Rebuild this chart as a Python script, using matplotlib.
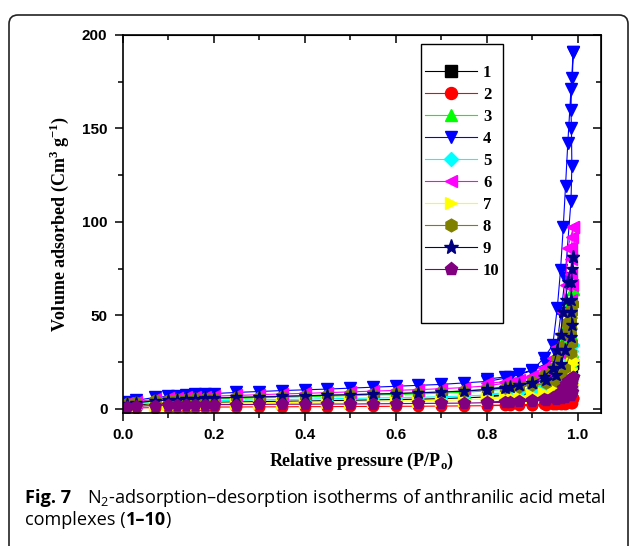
import matplotlib
matplotlib.use("Agg")
import matplotlib.pyplot as plt
from matplotlib.patches import FancyBboxPatch, Rectangle
from matplotlib.ticker import MultipleLocator

plt.rcParams["mathtext.fontset"] = "custom"
plt.rcParams["mathtext.rm"] = "Open Sans"
plt.rcParams["mathtext.bf"] = "Liberation Serif:bold"

# relative pressure of the adsorption / desorption points
x_ads = [0.01, 0.03, 0.07, 0.10, 0.12, 0.14, 0.16, 0.18, 0.20, 0.25, 0.30, 0.35,
         0.40, 0.45, 0.50, 0.55, 0.60, 0.65, 0.70, 0.75, 0.80, 0.85, 0.90, 0.925,
         0.945, 0.955, 0.962, 0.968, 0.973, 0.978, 0.99]
x_des = [0.99, 0.988, 0.986, 0.985, 0.986, 0.987, 0.985, 0.972, 0.963, 0.952,
         0.93, 0.90, 0.87, 0.84, 0.80]

labels = ["1", "2", "3", "4", "5", "6", "7", "8", "9", "10"]

ads_1 = [1.5, 2.0, 2.6, 2.9, 3.0, 3.1, 3.2, 3.3, 3.4, 3.6, 3.8, 4.0, 4.1, 4.3, 4.5, 4.7,
         4.9, 5.1, 5.4, 5.8, 6.3, 7.2, 8.6, 10.0, 11.5, 13.5, 15.5, 17.0, 19.0, 21.0, 24.0]
des_1 = [24.0, 22.0, 19.5, 17.0, 15.0, 12.5, 11.0, 10.0, 9.2, 8.6, 8.2, 7.8, 7.6, 7.3, 7.1]

ads_2 = [0.3, 0.4, 0.6, 0.7, 0.7, 0.8, 0.8, 0.8, 0.9, 0.9, 1.0, 1.0, 1.1, 1.1, 1.2, 1.2,
         1.3, 1.3, 1.4, 1.5, 1.6, 1.8, 2.0, 2.3, 2.6, 3.0, 3.4, 3.8, 4.2, 4.8, 5.5]
des_2 = [5.5, 5.0, 4.5, 4.0, 3.6, 3.1, 2.8, 2.6, 2.4, 2.3, 2.2, 2.1, 2.0, 1.9, 1.9]

ads_3 = [2.3, 3.0, 3.9, 4.3, 4.5, 4.7, 4.9, 5.0, 5.2, 5.5, 5.8, 6.1, 6.4, 6.7, 7.0, 7.3,
         7.6, 7.9, 8.3, 8.8, 9.5, 10.8, 13.0, 15.5, 18.5, 23.0, 29.0, 36.0, 45.0, 55.0, 64.0]
des_3 = [64.0, 58.0, 52.0, 46.0, 40.0, 31.0, 25.0, 20.0, 17.0, 15.0, 13.8, 12.8, 12.2, 11.6, 11.2]

ads_4 = [3.5, 4.5, 6.0, 6.6, 7.0, 7.3, 7.6, 7.9, 8.1, 8.7, 9.2, 9.7, 10.1, 10.5, 11.0, 11.5,
         12.0, 12.5, 13.0, 13.8, 14.6, 16.7, 20.4, 27.0, 34.0, 54.0, 74.0, 97.0, 119.0, 142.0, 191.0]
des_4 = [191.0, 177.0, 171.0, 160.0, 150.0, 130.0, 111.0, 70.0, 51.0, 30.0, 24.0, 20.8, 18.5, 17.0, 15.8]

ads_5 = [2.0, 2.6, 3.4, 3.7, 3.9, 4.0, 4.1, 4.2, 4.3, 4.5, 4.7, 4.9, 5.1, 5.3, 5.5, 5.7,
         5.9, 6.1, 6.4, 6.8, 7.3, 8.2, 9.8, 11.5, 13.5, 16.0, 19.0, 22.0, 26.0, 30.0, 34.0]
des_5 = [34.0, 31.0, 28.0, 25.0, 22.0, 18.0, 15.0, 13.0, 11.5, 10.5, 9.8, 9.2, 8.8, 8.4, 8.1]

ads_6 = [3.0, 3.8, 5.0, 5.5, 5.8, 6.1, 6.3, 6.5, 6.7, 7.1, 7.5, 7.9, 8.2, 8.6, 9.0, 9.4,
         9.8, 10.2, 10.7, 11.3, 12.2, 14.0, 17.5, 22.0, 27.0, 33.0, 40.0, 52.0, 66.0, 86.0, 97.0]
des_6 = [97.0, 92.0, 86.0, 80.0, 72.0, 66.0, 58.0, 40.0, 30.0, 24.0, 20.0, 17.0, 15.5, 14.5, 13.5]

ads_7 = [1.0, 1.5, 2.1, 2.4, 2.5, 2.6, 2.7, 2.8, 2.9, 3.0, 3.2, 3.3, 3.5, 3.6, 3.8, 3.9,
         4.1, 4.3, 4.5, 4.8, 5.2, 6.0, 7.2, 8.5, 10.0, 12.0, 14.5, 17.0, 20.0, 23.0, 26.0]
des_7 = [26.0, 24.0, 21.0, 18.5, 16.0, 13.0, 11.0, 9.5, 8.5, 7.8, 7.3, 6.8, 6.5, 6.2, 6.0]

ads_8 = [2.8, 3.5, 4.5, 4.9, 5.1, 5.3, 5.5, 5.6, 5.8, 6.1, 6.4, 6.7, 7.0, 7.3, 7.6, 7.9,
         8.2, 8.6, 9.0, 9.6, 10.4, 12.0, 15.0, 18.0, 22.0, 27.0, 33.0, 40.0, 46.0, 52.0, 56.0]
des_8 = [56.0, 52.0, 48.0, 45.0, 40.0, 35.0, 30.0, 22.0, 18.0, 15.0, 13.5, 12.5, 11.8, 11.2, 10.8]

ads_9 = [2.5, 3.2, 4.2, 4.6, 4.9, 5.1, 5.3, 5.5, 5.7, 6.0, 6.3, 6.6, 6.9, 7.2, 7.5, 7.8,
         8.1, 8.5, 8.9, 9.4, 10.2, 11.5, 14.0, 17.0, 21.7, 31.5, 39.5, 52.0, 58.0, 68.0, 81.0]
des_9 = [81.0, 75.0, 68.0, 58.0, 52.0, 45.0, 38.6, 31.5, 24.0, 18.0, 15.5, 14.0, 12.5, 11.2, 10.5]

ads_10 = [1.0, 1.3, 1.7, 1.9, 2.0, 2.0, 2.1, 2.1, 2.2, 2.2, 2.3, 2.4, 2.4, 2.5, 2.5, 2.6,
          2.7, 2.8, 2.9, 3.0, 3.2, 3.6, 4.2, 5.0, 6.0, 7.5, 9.0, 11.0, 13.0, 15.0, 17.0]
des_10 = [17.0, 15.5, 14.0, 12.5, 11.0, 9.0, 7.5, 6.5, 5.8, 5.2, 4.8, 4.4, 4.1, 3.8, 3.6]

ads = [ads_1, ads_2, ads_3, ads_4, ads_5, ads_6, ads_7, ads_8, ads_9, ads_10]
des = [des_1, des_2, des_3, des_4, des_5, des_6, des_7, des_8, des_9, des_10]

colors = ["black", "red", "#00ff00", "blue", "cyan", "magenta", "yellow",
          "#808000", "#000080", "#800080"]
markers = ["s", "o", "^", "v", "D", "<", ">", "h", "*", "p"]
msizes = [7, 7.5, 8, 8, 6.5, 8, 8, 8, 9.5, 8.5]

fig = plt.figure(figsize=(6.29, 5.46), dpi=100)
ax = fig.add_axes([0.195, 0.2436, 0.7605, 0.6924])

handles = []
for i in range(10):
    x = x_ads + x_des
    y = ads[i] + des[i]
    h, = ax.plot(x, y, color=colors[i], marker=markers[i], ms=msizes[i], lw=0.8,
                 mec=colors[i], label=labels[i])
    handles.append(h)

ax.set_xlim(0, 1.051)
ax.set_ylim(-2.3, 200)
ax.xaxis.set_major_locator(MultipleLocator(0.2))
ax.xaxis.set_minor_locator(MultipleLocator(0.1))
ax.yaxis.set_major_locator(MultipleLocator(50))
ax.yaxis.set_minor_locator(MultipleLocator(25))
for s in ax.spines.values():
    s.set_linewidth(1.2)
ax.tick_params(which="both", direction="out", width=1.1, top=False, right=False)
ax.tick_params(which="major", length=6, pad=5)
ax.tick_params(which="minor", length=3.5)
for lab in ax.get_xticklabels() + ax.get_yticklabels():
    lab.set_fontfamily("Liberation Sans")
    lab.set_fontweight("bold")
    lab.set_fontsize(11)
ax.xaxis.set_major_formatter(plt.FuncFormatter(lambda v, p: f"{v:.1f}"))
ax.yaxis.set_major_formatter(plt.FuncFormatter(lambda v, p: f"{v:.0f}"))

# mirrored inward ticks on top / right
axt = ax.secondary_xaxis("top")
axt.xaxis.set_major_locator(MultipleLocator(0.2))
axt.xaxis.set_minor_locator(MultipleLocator(0.1))
axt.tick_params(which="both", direction="in", width=1.1, labeltop=False)
axt.tick_params(which="major", length=6)
axt.tick_params(which="minor", length=3.5)
axr = ax.secondary_yaxis("right")
axr.yaxis.set_major_locator(MultipleLocator(50))
axr.yaxis.set_minor_locator(MultipleLocator(25))
axr.tick_params(which="both", direction="in", width=1.1, labelright=False)
axr.tick_params(which="major", length=6)
axr.tick_params(which="minor", length=3.5)

lab_font = dict(family="Liberation Serif", weight="bold", size=13)
ax.set_xlabel("Relative pressure (P/P$_{\\mathbf{o}}$)", fontdict=lab_font, labelpad=6)
ax.set_ylabel("Volume adsorbed (Cm$^{\\mathbf{3}}$ g$^{\\mathbf{-1}}$)", fontdict=lab_font,
              labelpad=8)

# legend with a taller frame than its entries
ax.add_patch(Rectangle((0.624, 0.238), 0.171, 0.738, transform=ax.transAxes,
                       fill=False, lw=1.0, ec="black", zorder=5))
leg = ax.legend(handles=handles, loc="upper left", bbox_to_anchor=(0.633, 0.921),
                frameon=False, numpoints=1, handlelength=3.1, handletextpad=0.35,
                labelspacing=0.36, borderpad=0, borderaxespad=0, markerscale=1.15,
                prop=dict(family="Liberation Serif", weight="bold", size=12))

# rounded frame around the figure block
fig.patches.append(FancyBboxPatch((9, -30), 619, 546 - 15 + 30,
                                  boxstyle="round,pad=0,rounding_size=9",
                                  transform=None, fill=False, lw=1.2, ec="#222222"))

cap_y1 = 1 - 503 / 546
cap_y2 = 1 - 525 / 546
cap = dict(family="Open Sans", size=13.1)
fig.text(0.04, cap_y1, "Fig. 7", fontweight="bold", **cap)
fig.text(87 / 629, cap_y1,
         "N$_{\\mathrm{2}}$-adsorption\u2013desorption isotherms of anthranilic acid metal",
         **cap)
t = fig.text(0.04, cap_y2, "complexes (", **cap)
fig.canvas.draw()
r = fig.canvas.get_renderer()
x_next = t.get_window_extent(r).x1 / fig.bbox.width
t2 = fig.text(x_next, cap_y2, "1\u201310", fontweight="bold", **cap)
x_next = t2.get_window_extent(r).x1 / fig.bbox.width
fig.text(x_next, cap_y2, ")", **cap)

fig.savefig("out.png", dpi=100)
